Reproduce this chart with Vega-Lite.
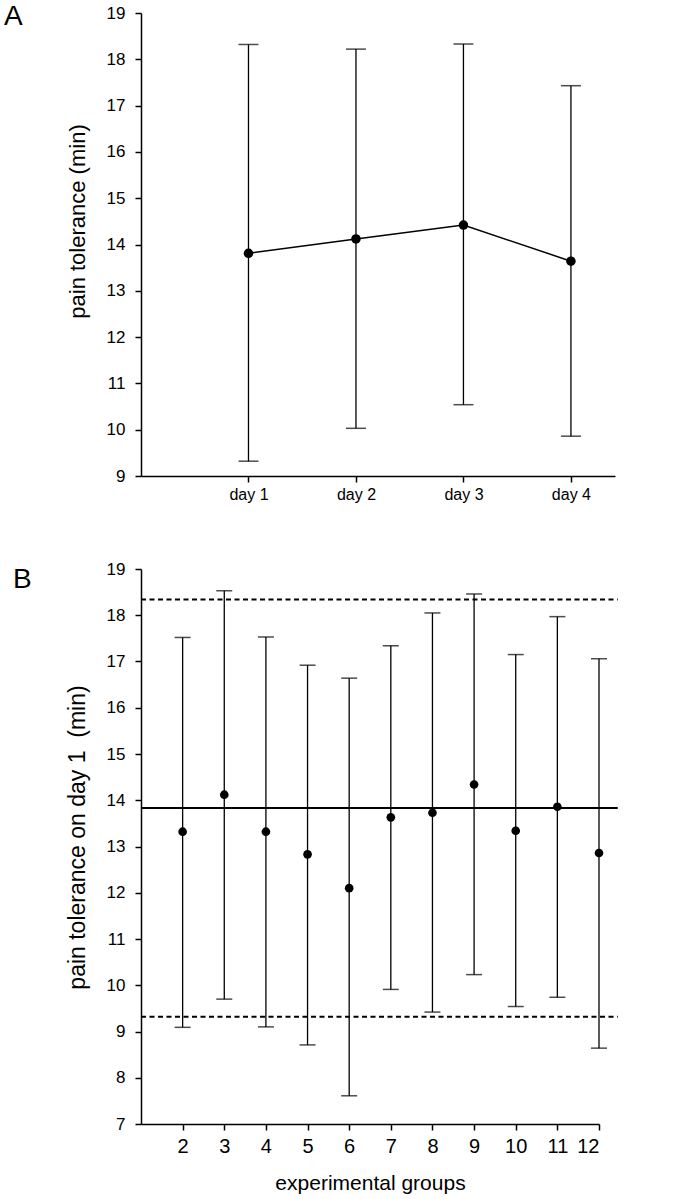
{
  "$schema": "https://vega.github.io/schema/vega-lite/v6.json",
  "background": "white",
  "padding": {"left": 4, "top": 3, "right": 5, "bottom": 5},
  "config": {
    "font": "Liberation Sans",
    "view": {"stroke": null},
    "axis": {
      "domainColor": "black", "tickColor": "black", "labelColor": "black", "titleColor": "black",
      "grid": false, "domainWidth": 1.5, "tickWidth": 1.5, "tickSize": 6,
      "labelFont": "Liberation Sans", "titleFont": "Liberation Sans", "titleFontWeight": "normal",
      "labelFontSize": 16, "titleFontSize": 21
    },
    "title": {"fontSize": 28, "fontWeight": "normal", "anchor": "start", "frame": "group", "color": "black", "font": "Liberation Sans"},
    "concat": {"spacing": 58}
  },
  "datasets": {
    "daily": [
      {"day": 1, "mean": 13.81, "lower": 9.32, "upper": 18.32},
      {"day": 2, "mean": 14.12, "lower": 10.03, "upper": 18.22},
      {"day": 3, "mean": 14.42, "lower": 10.54, "upper": 18.33},
      {"day": 4, "mean": 13.64, "lower": 9.86, "upper": 17.43}
    ],
    "groups": [
      {"group": 2, "mean": 13.32, "lower": 9.09, "upper": 17.52},
      {"group": 3, "mean": 14.12, "lower": 9.70, "upper": 18.53},
      {"group": 4, "mean": 13.32, "lower": 9.10, "upper": 17.53},
      {"group": 5, "mean": 12.83, "lower": 8.71, "upper": 16.92},
      {"group": 6, "mean": 12.10, "lower": 7.61, "upper": 16.64},
      {"group": 7, "mean": 13.63, "lower": 9.91, "upper": 17.34},
      {"group": 8, "mean": 13.73, "lower": 9.42, "upper": 18.05},
      {"group": 9, "mean": 14.34, "lower": 10.23, "upper": 18.46},
      {"group": 10, "mean": 13.34, "lower": 9.54, "upper": 17.15},
      {"group": 11, "mean": 13.86, "lower": 9.74, "upper": 17.97},
      {"group": 12, "mean": 12.86, "lower": 8.64, "upper": 17.06}
    ],
    "refs": [
      {"kind": "upper", "value": 18.34},
      {"kind": "mean", "value": 13.83},
      {"kind": "lower", "value": 9.32}
    ]
  },
  "vconcat": [
    {
      "width": 474,
      "height": 463,
      "title": {"text": "A", "dx": -137, "dy": 31},
      "data": {"name": "daily"},
      "encoding": {
        "x": {
          "field": "day", "type": "quantitative",
          "scale": {"domain": [0, 4.41], "nice": false, "zero": false},
          "axis": {"values": [1, 2, 3, 4], "labelExpr": "'day ' + datum.value", "title": null, "labelPadding": 4}
        }
      },
      "layer": [
        {
          "mark": {"type": "rule", "color": "black", "strokeWidth": 1.3},
          "encoding": {
            "y": {"field": "lower", "type": "quantitative", "scale": {"domain": [9, 19], "nice": false, "zero": false},
                  "axis": {"title": "pain tolerance (min)", "values": [9,10,11,12,13,14,15,16,17,18,19], "labelFontSize": 17, "labelPadding": 10, "titlePadding": 17, "titleFontSize": 22, "titleY": 208}},
            "y2": {"field": "upper"}
          }
        },
        {
          "mark": {"type": "tick", "orient": "horizontal", "color": "black", "size": 20, "thickness": 1.5},
          "encoding": {"y": {"field": "upper", "type": "quantitative", "axis": {"title": "pain tolerance (min)"}}}
        },
        {
          "mark": {"type": "tick", "orient": "horizontal", "color": "black", "size": 20, "thickness": 1.5},
          "encoding": {"y": {"field": "lower", "type": "quantitative", "axis": {"title": "pain tolerance (min)"}}}
        },
        {
          "mark": {"type": "line", "color": "black", "strokeWidth": 1.5},
          "encoding": {"y": {"field": "mean", "type": "quantitative", "axis": {"title": "pain tolerance (min)"}}}
        },
        {
          "mark": {"type": "point", "filled": true, "color": "black", "size": 90, "opacity": 1},
          "encoding": {"y": {"field": "mean", "type": "quantitative", "axis": {"title": "pain tolerance (min)"}}}
        }
      ]
    },
    {
      "width": 458,
      "height": 555,
      "title": {"text": "B", "dx": -128, "dy": 38},
      "layer": [
        {
          "data": {"name": "groups"},
          "mark": {"type": "rule", "color": "black", "strokeWidth": 1.3},
          "encoding": {
            "x": {"field": "group", "type": "quantitative", "scale": {"domain": [1, 12], "nice": false, "zero": false},
                  "axis": {"values": [2,3,4,5,6,7,8,9,10,11,12], "title": "experimental groups", "labelFontSize": 20, "labelPadding": 6, "titlePadding": 16}},
            "y": {"field": "lower", "type": "quantitative", "scale": {"domain": [7, 19], "nice": false, "zero": false},
                  "axis": {"title": "pain tolerance on day 1 \u00a0(min)", "values": [7,8,9,10,11,12,13,14,15,16,17,18,19], "labelFontSize": 17, "labelPadding": 10, "titlePadding": 17, "titleFontSize": 23, "titleY": 268}},
            "y2": {"field": "upper"}
          }
        },
        {
          "data": {"name": "groups"},
          "mark": {"type": "tick", "orient": "horizontal", "color": "black", "size": 16, "thickness": 1.5},
          "encoding": {
            "x": {"field": "group", "type": "quantitative"},
            "y": {"field": "upper", "type": "quantitative"}
          }
        },
        {
          "data": {"name": "groups"},
          "mark": {"type": "tick", "orient": "horizontal", "color": "black", "size": 16, "thickness": 1.5},
          "encoding": {
            "x": {"field": "group", "type": "quantitative"},
            "y": {"field": "lower", "type": "quantitative"}
          }
        },
        {
          "data": {"name": "refs"},
          "transform": [{"filter": "datum.kind != 'mean'"}],
          "mark": {"type": "rule", "color": "black", "strokeWidth": 2, "strokeDash": [5, 3.5]},
          "encoding": {
            "x": {"datum": 1},
            "x2": {"datum": 12.45},
            "y": {"field": "value", "type": "quantitative"}
          }
        },
        {
          "data": {"name": "refs"},
          "transform": [{"filter": "datum.kind == 'mean'"}],
          "mark": {"type": "rule", "color": "black", "strokeWidth": 2},
          "encoding": {
            "x": {"datum": 1},
            "x2": {"datum": 12.45},
            "y": {"field": "value", "type": "quantitative"}
          }
        },
        {
          "data": {"name": "groups"},
          "mark": {"type": "point", "filled": true, "color": "black", "size": 75, "opacity": 1},
          "encoding": {
            "x": {"field": "group", "type": "quantitative"},
            "y": {"field": "mean", "type": "quantitative"}
          }
        }
      ]
    }
  ]
}
